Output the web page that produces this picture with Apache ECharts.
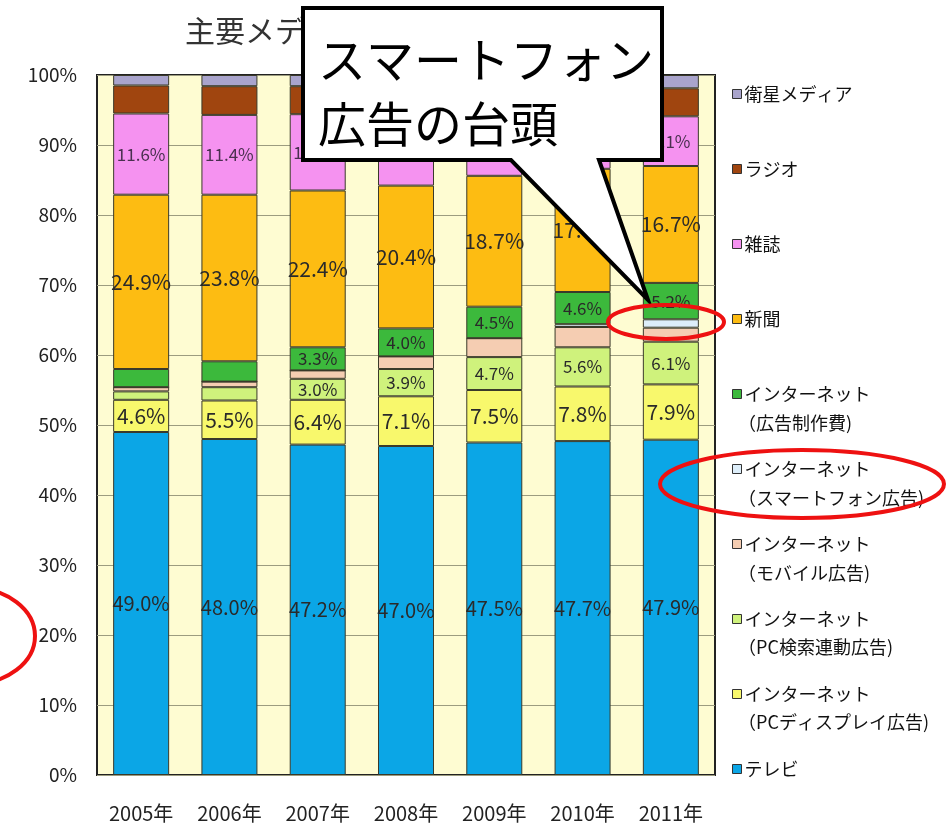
<!DOCTYPE html>
<html>
<head>
<meta charset="utf-8">
<script src="https://cdn.jsdelivr.net/npm/echarts@6/dist/echarts.min.js"></script>
<style>
  html, body { margin: 0; padding: 0; background: #fff; }
  #chart { width: 947px; height: 837px; }
</style>
</head>
<body>
<div id="chart"></div>
<script>
// categories and series values (% share, stack order bottom -> top)
const years = ["2005年", "2006年", "2007年", "2008年", "2009年", "2010年", "2011年"];
const tv = [49.0, 48.0, 47.2, 47.0, 47.5, 47.7, 47.9];
const pcDisplay = [4.6, 5.5, 6.4, 7.1, 7.5, 7.8, 7.9];
const pcSearch = [1.2, 1.9, 3.0, 3.9, 4.7, 5.6, 6.1];
const mobile = [0.6, 0.8, 1.2, 1.8, 2.7, 2.9, 2.0];
const smartphone = [0, 0, 0, 0, 0, 0.4, 1.2];
const production = [2.6, 2.9, 3.3, 4.0, 4.5, 4.6, 5.2];
const newspaper = [24.9, 23.8, 22.4, 20.4, 18.7, 17.6, 16.7];
const magazine = [11.6, 11.4, 10.9, 9.6, 8.5, 8.3, 7.1];
const radio = [4.0, 4.1, 4.0, 4.2, 3.9, 3.5, 4.0];
const satellite = [1.5, 1.6, 1.6, 2.0, 2.0, 1.6, 1.9];
const yTicks = [0, 10, 20, 30, 40, 50, 60, 70, 80, 90, 100];

const jp = '"Noto Sans CJK JP", "Noto Sans", sans-serif';

// label only the segments that are tall enough
const pctLabel = (size, color) => ({
    show: true,
    position: "inside",
    fontSize: size,
    fontFamily: jp,
    color: color || "#2a2a2a",
    formatter: (p) => (p.value >= 3 ? p.value.toFixed(1) + "%" : ""),
});

const mkSeries = (name, data, color, label) => ({
    name: name,
    type: "bar",
    stack: "total",
    data: data,
    barWidth: 56,
    itemStyle: { color: color, borderColor: "#3a3a2a", borderWidth: 1 },
    label: label || { show: false },
    emphasis: { disabled: true },
});

const series = [
    mkSeries("テレビ", tv, "#0BA6E6", pctLabel(20)),
    mkSeries("インターネット(PCディスプレイ広告)", pcDisplay, "#F8F86C", pctLabel(21)),
    mkSeries("インターネット(PC検索連動広告)", pcSearch, "#CFF27C", pctLabel(17)),
    mkSeries("インターネット(モバイル広告)", mobile, "#F5CDB2"),
    mkSeries("インターネット(スマートフォン広告)", smartphone, "#DDEEFA"),
    mkSeries("インターネット(広告制作費)", production, "#3CB93C", pctLabel(17)),
    mkSeries("新聞", newspaper, "#FDBC12", pctLabel(21)),
    mkSeries("雑誌", magazine, "#F592F0", pctLabel(17, "#4a3050")),
    mkSeries("ラジオ", radio, "#A0450F"),
    mkSeries("衛星メディア", satellite, "#A9A4CC"),
];

const legendOrder = series.map((s) => s.name).reverse();
const secondLines = ["（広告制作費)", "（スマートフォン広告)", "（モバイル広告)", "（PC検索連動広告)", "（PCディスプレイ広告)"];
const secondLineTops = [414, 489, 564, 638, 713];

const chart = echarts.init(document.getElementById("chart"));

const option = {
    animation: false,
    backgroundColor: "#ffffff",
    grid: {
        left: 97, right: 232, top: 75, bottom: 62,
        show: true,
        backgroundColor: "#FEFCD2",
        borderColor: "#222",
        borderWidth: 2,
    },
    legend: {
        orient: "vertical",
        left: 727,
        top: 79,
        itemWidth: 9,
        itemHeight: 9,
        itemGap: 55,
        icon: "rect",
        data: legendOrder,
        selectedMode: false,
        itemStyle: { borderColor: "#333", borderWidth: 1 },
        textStyle: { fontSize: 18, fontFamily: jp, color: "#111", lineHeight: 20, padding: [0, 0, 0, -2] },
        formatter: (name) => name.split("(")[0],
    },
    xAxis: {
        type: "category",
        data: years,
        axisLine: { show: false },
        axisTick: { show: false },
        axisLabel: { interval: 0, margin: 28, fontSize: 20, fontFamily: jp, color: "#222" },
    },
    yAxis: {
        type: "value",
        min: yTicks[0],
        max: yTicks[yTicks.length - 1],
        interval: 10,
        axisLine: { show: false },
        axisTick: { show: false },
        axisLabel: { margin: 20, fontSize: 19, fontFamily: jp, color: "#222", formatter: "{value}%" },
        splitLine: { lineStyle: { color: "#9c9c80", width: 1 } },
    },
    series: series,
    graphic: [
        // title (mostly hidden by the callout)
        { type: "text", left: 185, top: 16, z: 50,
          style: { text: "主要メディア別広告費", fontSize: 30, fontFamily: jp, fill: "#333" } },
        // callout box
        { type: "polygon", z: 100,
          shape: { points: [[303, 8], [662, 8], [662, 160], [599, 160], [648, 300], [511, 160], [303, 160]] },
          style: { fill: "#fff", stroke: "#000", lineWidth: 4, lineJoin: "miter" } },
        { type: "text", left: 318, top: 28, z: 101,
          style: { text: "スマートフォン\n広告の台頭", fontSize: 48, lineHeight: 64, fontFamily: jp, fill: "#000" } },
        // red highlight ellipses
        { type: "ellipse", z: 102, shape: { cx: 666, cy: 322, rx: 58, ry: 17 },
          style: { fill: "none", stroke: "#EE1111", lineWidth: 4 } },
        { type: "ellipse", z: 102, shape: { cx: 802, cy: 484, rx: 142, ry: 34 },
          style: { fill: "none", stroke: "#EE1111", lineWidth: 4 } },
        { type: "ellipse", z: 102, shape: { cx: -28, cy: 636, rx: 63, ry: 48 },
          style: { fill: "none", stroke: "#EE1111", lineWidth: 4 } },
    ].concat(secondLines.map((t, i) => ({
        type: "text", left: 738, top: secondLineTops[i], z: 50,
        style: { text: t, fontSize: 18, fontFamily: jp, fill: "#111" },
    }))),
};

chart.setOption(option);
</script>
</body>
</html>
